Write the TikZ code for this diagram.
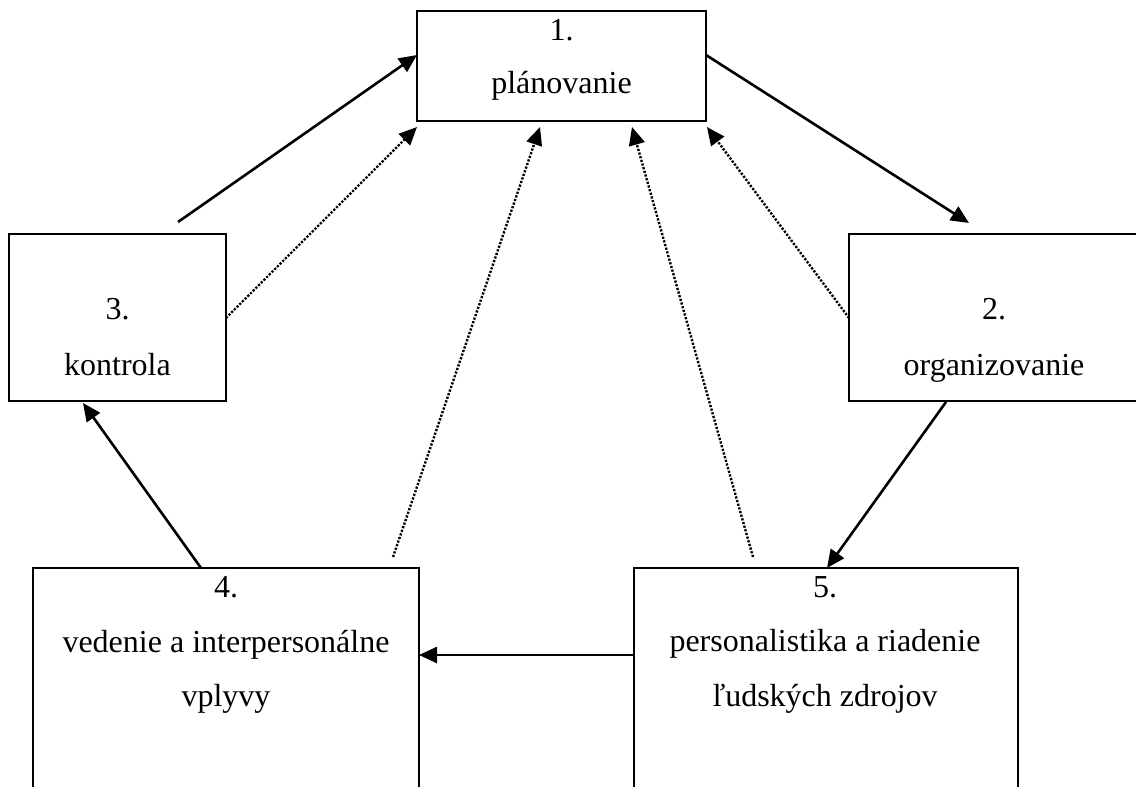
\documentclass[tikz,border=0pt]{standalone}
\usepackage{fontspec}
\setmainfont{Liberation Serif}
\usetikzlibrary{arrows.meta}
\begin{document}
\begin{tikzpicture}[x=0.5pt,y=-0.5pt,
  box/.style={draw, line width=1.3pt, inner sep=0pt, rectangle},
  txt/.style={anchor=base, inner sep=0pt, font=\fontsize{16}{19}\selectfont},
  solidarrow/.style={line width=1.3pt, -{Triangle[length=9pt,width=8pt]}},
  dotarrow/.style={line width=1.2pt, dash pattern=on 1.1pt off 0.8pt, -{Triangle[length=9pt,width=8pt]}}]
\useasboundingbox (0,0) rectangle (1136,787);
\clip (0,0) rectangle (1136,787);

% boxes
\node[box, minimum width=144.5pt, minimum height=55pt] (b1) at (561.5,66) {};
\node[box, minimum width=108.5pt, minimum height=83.5pt] (b3) at (117.5,317.5) {};
\node[box, minimum width=146pt, minimum height=83.5pt] (b2) at (995,317.5) {};
\node[box, minimum width=193pt, minimum height=131pt] (b4) at (226,699) {};
\node[box, minimum width=192pt, minimum height=131pt] (b5) at (826,699) {};

% texts
\node[txt] (t1a) at (561.5,40) {1.};
\node[txt] (t1b) at (561.5,93) {plánovanie};
\node[txt] (t3a) at (117.5,319) {3.};
\node[txt] (t3b) at (117.5,375) {kontrola};
\node[txt] (t2a) at (994,319) {2.};
\node[txt] (t2b) at (994,375) {organizovanie};
\node[txt] (t4a) at (226,597) {4.};
\node[txt] (t4b) at (226,652) {vedenie a interpersonálne};
\node[txt] (t4c) at (226,706) {vplyvy};
\node[txt] (t5a) at (825,597) {5.};
\node[txt] (t5b) at (825,651) {personalistika a riadenie};
\node[txt] (t5c) at (825,706) {ľudských zdrojov};

% connector end points
\coordinate (s31) at (178,222);
\coordinate (e31) at (417,55);
\coordinate (s31d) at (226,318);
\coordinate (e31d) at (417,127);
\coordinate (s12) at (706,55);
\coordinate (e12) at (969,223);
\coordinate (s21d) at (849,318);
\coordinate (e21d) at (707,127);
\coordinate (s41d) at (393,557);
\coordinate (e41d) at (540,127);
\coordinate (s51d) at (753,557);
\coordinate (e51d) at (632,127);
\coordinate (s25) at (946,402);
\coordinate (e25) at (827,568);
\coordinate (s43) at (201,568);
\coordinate (e43) at (83,403);
\coordinate (s54) at (634,655);
\coordinate (e54) at (419,655);

% connectors
\draw[solidarrow] (s31) -- (e31);
\draw[dotarrow] (s31d) -- (e31d);
\draw[solidarrow] (s12) -- (e12);
\draw[dotarrow] (s21d) -- (e21d);
\draw[dotarrow] (s41d) -- (e41d);
\draw[dotarrow] (s51d) -- (e51d);
\draw[solidarrow] (s25) -- (e25);
\draw[solidarrow] (s43) -- (e43);
\draw[solidarrow] (s54) -- (e54);
\end{tikzpicture}
\end{document}
